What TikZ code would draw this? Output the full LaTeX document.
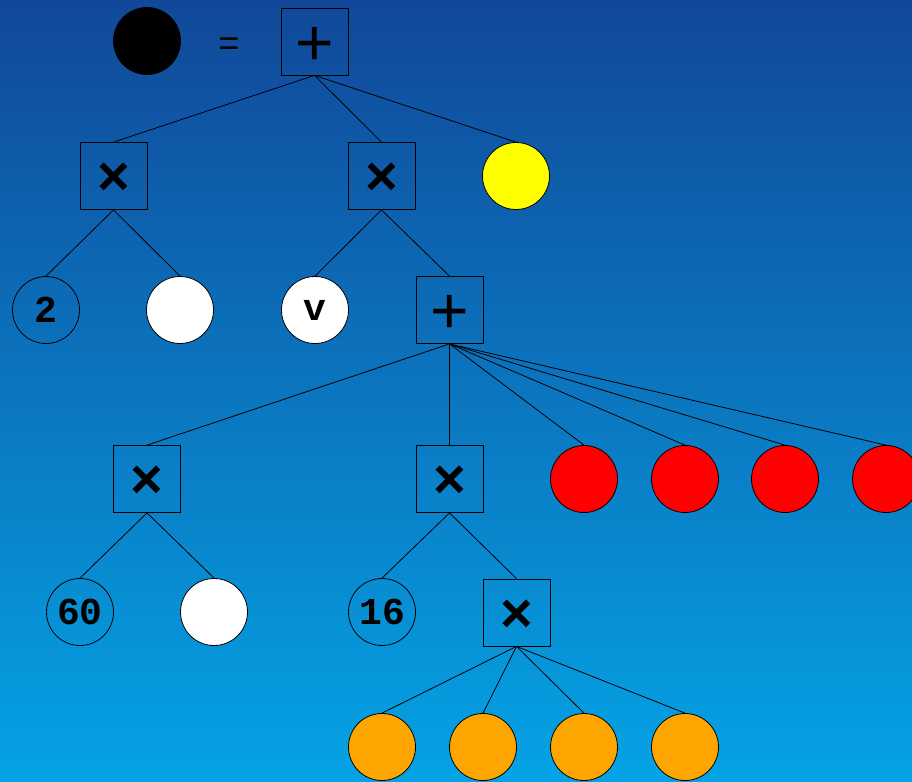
\documentclass[tikz,border=0pt]{standalone}
\usepackage{fontspec}
\setmainfont{Liberation Sans}
\newfontfamily\labelmono{Liberation Mono}
\definecolor{bgtop}{RGB}{17,72,153}
\definecolor{bgbottom}{RGB}{5,163,229}
\definecolor{leafyellow}{RGB}{255,255,0}
\definecolor{leafred}{RGB}{255,0,0}
\definecolor{leaforange}{RGB}{255,165,0}
\begin{document}
\begin{tikzpicture}[x=1pt,y=-1pt,
  opbox/.style={draw=black, line width=0.8pt, minimum size=67pt, inner sep=0pt},
  plusop/.style={opbox, label={[font=\fontsize{66}{66}\selectfont, inner sep=0pt, yshift=-4.5pt]center:+}},
  timesop/.style={opbox, label={[font=\bfseries\fontsize{56}{56}\selectfont, inner sep=0pt, yshift=-3.5pt]center:×}},
  leaf/.style={circle, draw=black, line width=0.8pt, minimum size=67pt, inner sep=0pt,
    font=\labelmono\bfseries\fontsize{38}{38}\selectfont},
  link/.style={draw=black, line width=0.8pt}]
% background
\shade[top color=bgtop, bottom color=bgbottom] (0,0) rectangle (912,781);
\useasboundingbox (0,0) rectangle (912,781);

% the defining equation
\node[leaf, fill=black] (lhs) at (147,41) {};
\node[font=\fontsize{36}{36}\selectfont] (eq) at (229,47) {=};
\node[plusop] (root) at (314.5,41.5) {};

% level 1
\node[timesop] (m1) at (113.5,176) {};
\node[timesop] (m2) at (381.5,176) {};
\node[leaf, fill=leafyellow] (y1) at (516,176) {};

% level 2
\node[leaf] (two) at (46,310) {2};
\node[leaf, fill=white] (w1) at (180,310) {};
\node[leaf, fill=white] (v) at (315,310) {v};
\node[plusop] (p2) at (449.5,310) {};

% level 3
\node[timesop] (m3) at (147,479) {};
\node[timesop] (m4) at (449.5,479) {};
\node[leaf, fill=leafred] (r1) at (584,479) {};
\node[leaf, fill=leafred] (r2) at (685,479) {};
\node[leaf, fill=leafred] (r3) at (785,479) {};
\node[leaf, fill=leafred] (r4) at (886,479) {};

% level 4
\node[leaf] (sixty) at (80,612) {60};
\node[leaf, fill=white] (w2) at (214,612) {};
\node[leaf] (sixteen) at (382,612) {16};
\node[timesop] (m5) at (516.5,612.5) {};

% level 5
\node[leaf, fill=leaforange] (o1) at (382,747) {};
\node[leaf, fill=leaforange] (o2) at (483,747) {};
\node[leaf, fill=leaforange] (o3) at (584,747) {};
\node[leaf, fill=leaforange] (o4) at (685,747) {};

% connectors
\foreach \p/\c in {root/m1, root/m2, root/y1,
                   m1/two, m1/w1, m2/v, m2/p2,
                   p2/m3, p2/m4, p2/r1, p2/r2, p2/r3, p2/r4,
                   m3/sixty, m3/w2, m4/sixteen, m4/m5,
                   m5/o1, m5/o2, m5/o3, m5/o4}
  \draw[link] (\p.south) -- (\c.north);
\end{tikzpicture}
\end{document}
